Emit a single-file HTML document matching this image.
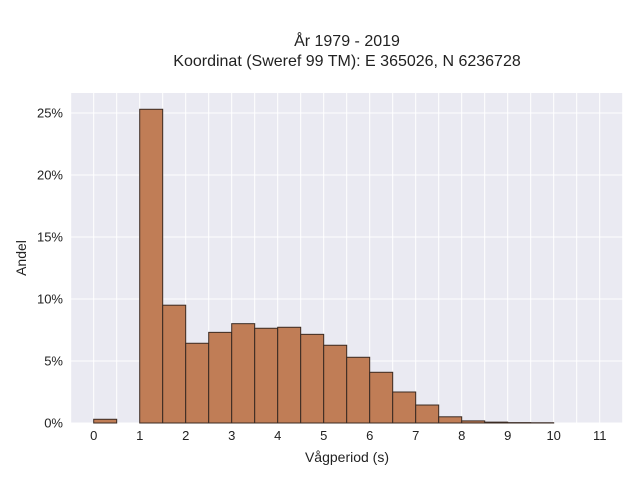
<!DOCTYPE html>
<html><head><meta charset="utf-8"><style>
html,body{margin:0;padding:0;background:#fff;}
svg{display:block;font-family:"Liberation Sans",sans-serif;}
</style></head><body>
<svg id="chart" width="640" height="480" viewBox="0 0 640 480">
<text x="347" y="46" text-anchor="middle" font-size="16" fill="#222">År 1979 - 2019</text>
<text x="347" y="66" text-anchor="middle" font-size="16" fill="#222">Koordinat (Sweref 99 TM): E 365026, N 6236728</text>
<rect x="71" y="93" width="552" height="330" fill="#eaeaf2"/>
<g id="grid"></g>
<g id="bars"></g>
<g id="xticks"></g>
<g id="yticks"></g>
<text x="347" y="462" text-anchor="middle" font-size="14" fill="#222">Vågperiod (s)</text>
<text transform="translate(26,258) rotate(-90)" text-anchor="middle" font-size="14" fill="#222">Andel</text>
</svg>
<script>
const binStarts = [0,0.5,1,1.5,2,2.5,3,3.5,4,4.5,5,5.5,6,6.5,7,7.5,8,8.5,9,9.5];
const binValues = [0.3,0,25.3,9.5,6.43,7.31,8.01,7.64,7.72,7.15,6.27,5.3,4.09,2.5,1.45,0.5,0.17,0.07,0.03,0.02];
const binWidth = 0.5;
const xTickLabels = ["0","1","2","3","4","5","6","7","8","9","10","11"];
const yTickValues = [0,5,10,15,20,25];
const NS="http://www.w3.org/2000/svg";
const X0=93.7, XS=46, Y0=423, YS=12.4;
const xs=v=>X0+v*XS, ys=v=>Y0-v*YS;
const grid=document.getElementById('grid');
for(let v=-0.5; v<=11.5; v+=0.5){
  const l=document.createElementNS(NS,'line');
  l.setAttribute('x1',xs(v));l.setAttribute('x2',xs(v));l.setAttribute('y1',93);l.setAttribute('y2',423);
  l.setAttribute('stroke','#fff');l.setAttribute('stroke-width','1');
  
  
  grid.appendChild(l);
}
yTickValues.forEach(v=>{
  const l=document.createElementNS(NS,'line');
  l.setAttribute('x1',71);l.setAttribute('x2',623);l.setAttribute('y1',ys(v));l.setAttribute('y2',ys(v));
  l.setAttribute('stroke','#fff');l.setAttribute('stroke-width','1');
  
  
  grid.appendChild(l);
  const t=document.createElementNS(NS,'text');
  t.setAttribute('x',63);t.setAttribute('y',ys(v)+4.5);t.setAttribute('text-anchor','end');
  t.setAttribute('font-size','13');t.setAttribute('fill','#222');
  t.textContent=v+'%';
  
  
  document.getElementById('yticks').appendChild(t);
});
const bars=document.getElementById('bars');
binStarts.forEach((s,i)=>{
  const v=binValues[i]; if(v<=0) return;
  const r=document.createElementNS(NS,'rect');
  r.setAttribute('x',xs(s));r.setAttribute('width',binWidth*XS);
  r.setAttribute('y',ys(v));r.setAttribute('height',Y0-ys(v));
  r.setAttribute('fill','#c07d56');r.setAttribute('stroke','#3a2a22');r.setAttribute('stroke-width','1');
  
  
  bars.appendChild(r);
});
xTickLabels.forEach((lab,i)=>{
  const t=document.createElementNS(NS,'text');
  t.setAttribute('x',xs(i));t.setAttribute('y',440);t.setAttribute('text-anchor','middle');
  t.setAttribute('font-size','13');t.setAttribute('fill','#222');
  t.textContent=lab;
  
  
  document.getElementById('xticks').appendChild(t);
});
</script>
</body></html>
